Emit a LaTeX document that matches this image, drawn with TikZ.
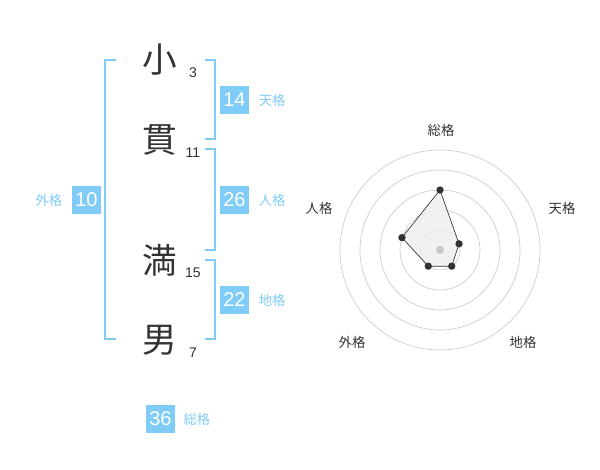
\documentclass[tikz,border=0pt]{standalone}
\usepackage{fontspec}
\usetikzlibrary{positioning}
\setmainfont{Liberation Sans}
\newfontfamily\jpfont{Noto Sans CJK JP}
\definecolor{kakublue}{HTML}{80CCF8}
\definecolor{inkgray}{HTML}{333333}

\begin{document}
\begin{tikzpicture}[x=0.75pt,y=-0.75pt,
    kanji/.style={font=\jpfont\fontsize{26}{26}\selectfont, text=inkgray, inner sep=0pt},
    strokes/.style={font=\fontsize{10.5}{10.5}\selectfont, text=inkgray, inner sep=0pt},
    bracket/.style={draw=kakublue, line width=1.5pt},
    score/.style={fill=kakublue, text=white, minimum width=21.75pt, minimum height=21pt, inner sep=0pt, font=\fontsize{15}{15}\selectfont},
    kaku/.style={text=kakublue, font=\jpfont\fontsize{10}{10}\selectfont, inner sep=0pt},
    ring/.style={draw=black!20, line width=0.5pt},
    axislabel/.style={text=inkgray, font=\jpfont\fontsize{10}{10}\selectfont, inner sep=0pt},
    vertex/.style={circle, fill=inkgray, inner sep=0pt, minimum size=5.5pt}]
    \useasboundingbox (0,0) rectangle (600,470);

    % name and stroke counts
    \node[kanji] (k1) at (160,60) {小};
    \node[kanji] (k2) at (160,140) {貫};
    \node[kanji] (k3) at (160,260) {満};
    \node[kanji] (k4) at (160,340) {男};
    \node[strokes] (n1) at (193,73) {3};
    \node[strokes] (n2) at (193,153) {11};
    \node[strokes] (n3) at (193,273) {15};
    \node[strokes] (n4) at (193,353) {7};

    % brackets
    \draw[bracket] (116,60) -- (105,60) -- (105,339) -- (116,339);
    \draw[bracket] (205,60) -- (215,60) -- (215,139) -- (205,139);
    \draw[bracket] (205,149) -- (215,149) -- (215,250) -- (205,250);
    \draw[bracket] (205,260) -- (215,260) -- (215,339) -- (205,339);

    % scores
    \node[score] (ten) at (234.5,100) {14};
    \node[kaku, right=7pt of ten] (tenl) {天格};
    \node[score] (jin) at (234.5,200) {26};
    \node[kaku, right=7pt of jin] (jinl) {人格};
    \node[score] (chi) at (234.5,300) {22};
    \node[kaku, right=7pt of chi] (chil) {地格};
    \node[score] (gai) at (86.5,200) {10};
    \node[kaku, left=7pt of gai] (gail) {外格};
    \node[score] (sou) at (160.5,419) {36};
    \node[kaku, right=6pt of sou] (soul) {総格};

    % radar chart
    \begin{scope}[shift={(440,250)}, yscale=-1]
        \foreach \r in {20,40,...,100}
            \draw[ring] (0,0) circle (\r);
        \coordinate (vs) at (90:60);
        \coordinate (vt) at (18:20);
        \coordinate (vc) at (-54:20);
        \coordinate (vg) at (-126:20);
        \coordinate (vj) at (162:40);
        \filldraw[fill=black!7, fill opacity=0.8, draw=inkgray, line width=0.5pt]
            (vs) -- (vt) -- (vc) -- (vg) -- (vj) -- cycle;
        \fill[black!22] (0,0) circle (4);
        \foreach \v in {vs,vt,vc,vg,vj}
            \node[vertex] at (\v) {};
        \node[axislabel] (ls) at (1,120) {総格};
        \node[axislabel] (lt) at (122,42) {天格};
        \node[axislabel] (lc) at (83,-92) {地格};
        \node[axislabel] (lg) at (-88,-92) {外格};
        \node[axislabel] (lj) at (-121,42) {人格};
    \end{scope}
\end{tikzpicture}
\end{document}
